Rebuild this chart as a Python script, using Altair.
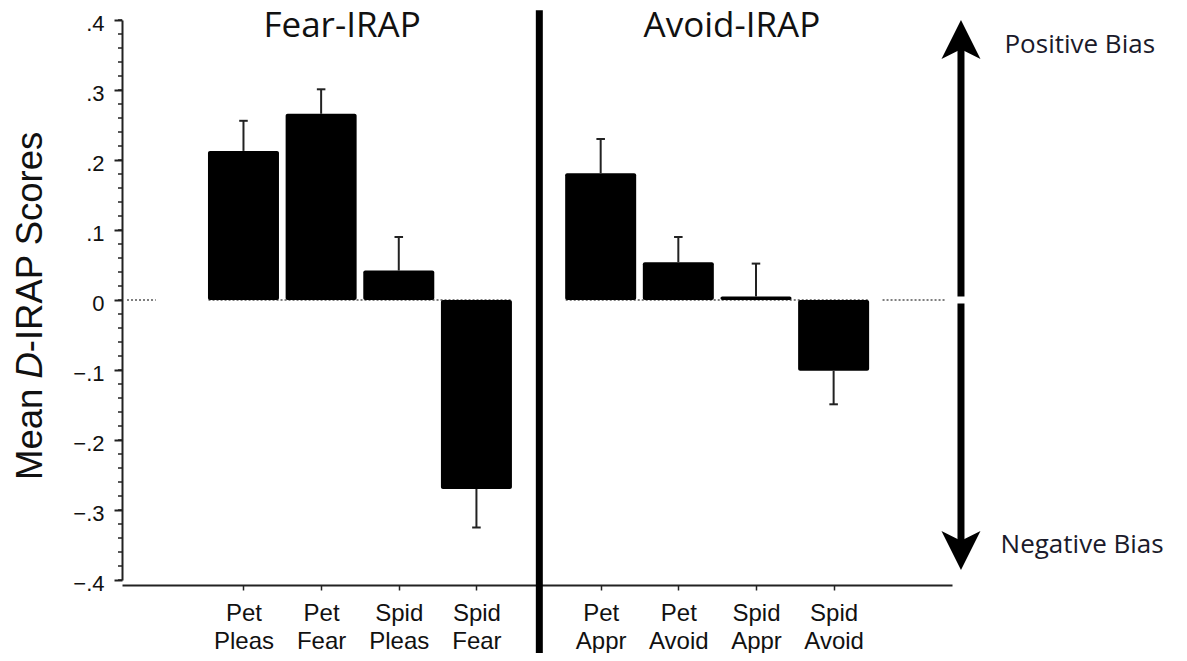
import json
import altair as alt
import pandas as pd

# ---------------- data ----------------
categories = ["Pet Pleas", "Pet Fear", "Spid Pleas", "Spid Fear",
              "Pet Appr", "Pet Avoid", "Spid Appr", "Spid Avoid"]
positions = [1.5, 2.5, 3.5, 4.5, 6.1, 7.1, 8.1, 9.1]
means = [0.213, 0.266, 0.042, -0.270, 0.181, 0.054, 0.005, -0.101]
err_ends = [0.256, 0.301, 0.090, -0.325, 0.230, 0.090, 0.052, -0.149]

y_major = [-0.4, -0.3, -0.2, -0.1, 0.0, 0.1, 0.2, 0.3, 0.4]
y_minor = [round(-0.4 + 0.02 * i, 2) for i in range(41)]

panel_titles = ["Fear-IRAP", "Avoid-IRAP"]
panel_title_x = [2.77, 7.79]
panel_title_y = [0.376, 0.376]

bias_labels = ["Positive Bias", "Negative Bias"]
bias_x = [11.3, 11.25]
bias_y = [0.353, -0.361]

zero_seg_start = [0.0, 1.05, 5.65, 9.73]
zero_seg_end = [0.37, 4.95, 9.55, 10.53]

divider_x = 5.31
arrow_x = 10.74

W, H = 830, 560
FONT = "Liberation Sans, Arial, sans-serif"

df = pd.DataFrame({"cat": categories, "pos": positions, "mean": means,
                   "err": err_ends, "zero": [0.0] * len(means)})

xscale = alt.Scale(domain=[0, 10.56], nice=False, zero=False)
yscale = alt.Scale(domain=[-0.4, 0.4], nice=False, zero=False)

label_expr_x = "split({}[indexof({}, datum.value)], ' ')".format(
    json.dumps(categories), json.dumps(positions))
label_expr_y = "datum.value == 0 ? '0' : replace(format(datum.value, '.1f'), '0.', '.')"

xaxis = alt.Axis(values=positions, labelExpr=label_expr_x, tickSize=5, tickWidth=1.5,
                 tickColor="#222", domainColor="#222", domainWidth=2, offset=5,
                 labelFont=FONT, labelFontSize=24, labelLineHeight=28,
                 labelColor="#111", labelPadding=11, labelOverlap=False,
                 labelFlush=False, grid=False, title=None)
yaxis = alt.Axis(values=y_major, labelExpr=label_expr_y, tickSize=8, tickWidth=2,
                 tickColor="#222", domainColor="#222", domainWidth=2,
                 labelFont=FONT, labelFontSize=22, labelColor="#111",
                 labelPadding=10, labelOffset=3, grid=False, title=None)


def X(field):
    return alt.X(field, type="quantitative", scale=xscale, axis=xaxis, title=None)


def Y(field):
    return alt.Y(field, type="quantitative", scale=yscale, axis=yaxis, title=None)


base = alt.Chart(df)

# dotted zero line segments
zdf = pd.DataFrame({"s": zero_seg_start, "e": zero_seg_end, "y": [0.0] * 4})
zero_line = alt.Chart(zdf).mark_rule(color="#555", strokeWidth=1.5, strokeDash=[2, 2]).encode(
    x=X("s"), x2="e", y=Y("y"))

bars = base.mark_bar(color="black", size=71, cornerRadius=2, orient="vertical").encode(
    x=X("pos"), y=Y("mean"), y2="zero")

err_rule = base.mark_rule(color="#222", strokeWidth=2).encode(
    x=X("pos"), y=Y("mean"), y2="err")

err_cap = base.transform_calculate(
    cl="datum.pos - 0.055", cr="datum.pos + 0.055"
).mark_rule(color="#222", strokeWidth=2).encode(x=X("cl"), x2="cr", y=Y("err"))

# minor ticks on y axis
mdf = pd.DataFrame({"v": y_minor})
minor = alt.Chart(mdf).mark_rule(color="#222", strokeWidth=1.5).encode(
    x=alt.value(-4), x2=alt.value(0), y=Y("v"))

# divider
ddf = pd.DataFrame({"x": [divider_x], "y1": [0.414], "y2": [-0.52]})
divider = alt.Chart(ddf).mark_rule(color="black", strokeWidth=7).encode(
    x=X("x"), y=Y("y1"), y2="y2")

# arrow
adf = pd.DataFrame({"x": [arrow_x], "y1": [0.36], "y2": [-0.345]})
shaft = alt.Chart(adf).mark_rule(color="black", strokeWidth=7).encode(
    x=X("x"), y=Y("y1"), y2="y2")
gdf = pd.DataFrame({"x1": [arrow_x - 0.12], "x2": [arrow_x + 0.12], "y": [0.0]})
gap = alt.Chart(gdf).mark_rule(color="white", strokeWidth=7).encode(
    x=X("x1"), x2="x2", y=Y("y"))
hdf = pd.DataFrame({"x": [arrow_x, arrow_x], "y": [0.372, -0.358],
                    "dir": ["up", "down"]})
head_up = alt.Chart(hdf).transform_filter("datum.dir == 'up'").mark_point(
    shape="M0,-1 L1,1 L0,0.5 L-1,1 Z", filled=True, color="black", size=1521, opacity=1
).encode(x=X("x"), y=Y("y"))
head_down = alt.Chart(hdf).transform_filter("datum.dir == 'down'").mark_point(
    shape="M0,1 L1,-1 L0,-0.5 L-1,-1 Z", filled=True, color="black", size=1521, opacity=1
).encode(x=X("x"), y=Y("y"))

# panel titles
tdf = pd.DataFrame({"t": panel_titles, "x": panel_title_x, "y": panel_title_y})
titles = alt.Chart(tdf).mark_text(font="Open Sans", fontSize=35, color="#111",
                                  align="center", baseline="alphabetic").encode(
    x=X("x"), y=Y("y"), text="t")

bdf = pd.DataFrame({"t": bias_labels, "x": bias_x, "y": bias_y})
bias = alt.Chart(bdf).mark_text(font="Open Sans", fontSize=26, color="#1a1a2a",
                                align="left", baseline="alphabetic").encode(
    x=X("x"), y=Y("y"), text="t")

# y axis title with italic D
ytitle_parts = ["Mean ", "D", "-IRAP Scores"]
ytitle_style = ["normal", "italic", "normal"]
ytitle_y = [460, 358.6, 332.2]
ylayers = []
for part, sty, yy in zip(ytitle_parts, ytitle_style, ytitle_y):
    ylayers.append(
        alt.Chart(pd.DataFrame({"t": [part]})).mark_text(
            font=FONT, fontSize=36.5, fontStyle=sty, color="#111",
            angle=270, align="left", baseline="alphabetic"
        ).encode(x=alt.value(-80), y=alt.value(yy), text="t")
    )

chart = alt.layer(
    zero_line, bars, err_rule, err_cap, minor, divider, shaft, gap,
    head_up, head_down, titles, bias, *ylayers
).properties(
    width=W, height=H,
    autosize=alt.AutoSizeParams(type="none"),
    padding={"left": 114, "top": 12, "right": 226, "bottom": 73},
    background="white",
).configure_view(stroke=None)

chart.save("out.html", embed_options={"renderer": "svg", "actions": False})
